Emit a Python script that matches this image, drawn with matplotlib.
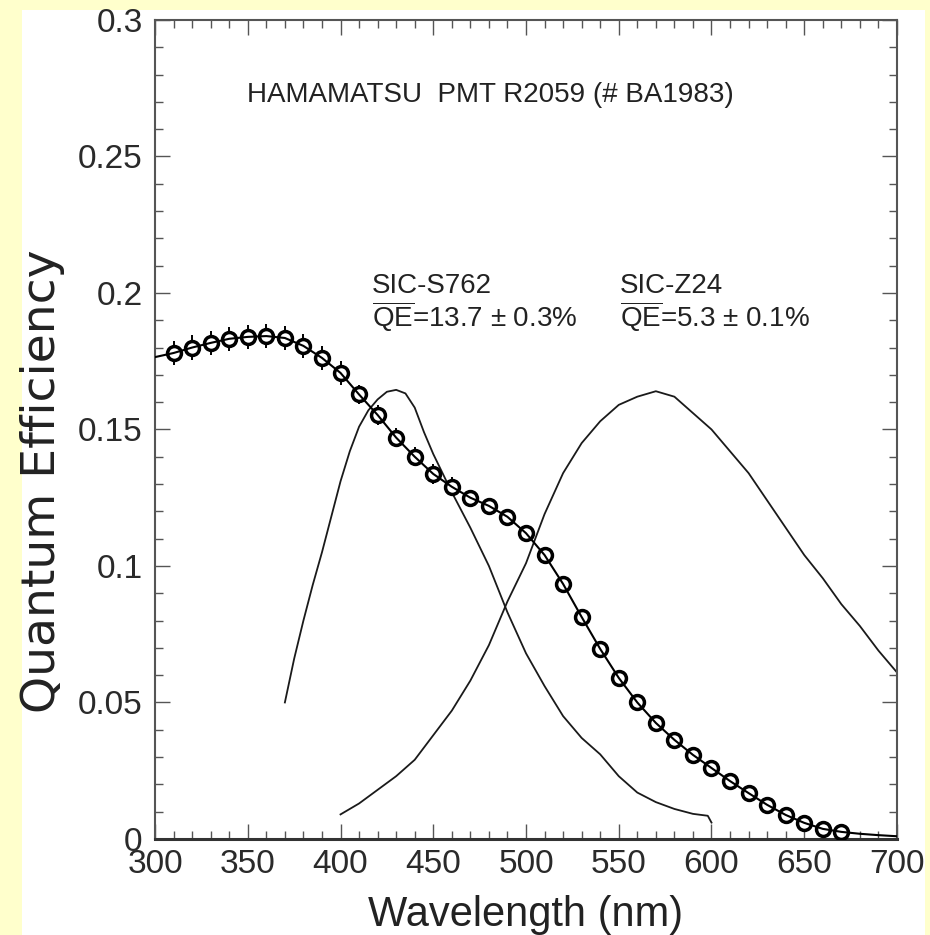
import numpy as np
import matplotlib.pyplot as plt
from matplotlib.patches import Rectangle
from matplotlib.ticker import MultipleLocator

plt.rcParams['font.family'] = ['Liberation Sans', 'DejaVu Sans']
plt.rcParams['mathtext.fontset'] = 'custom'
plt.rcParams['mathtext.rm'] = 'Liberation Sans'

# measured PMT quantum efficiency points (nm, QE)
qe_x = list(range(310, 680, 10))
qe_y = [0.178, 0.180, 0.1817, 0.1832, 0.1839, 0.1842, 0.1835, 0.1806, 0.1762, 0.1707,
        0.1628, 0.1553, 0.147, 0.140, 0.1337, 0.129, 0.125, 0.122, 0.118, 0.112,
        0.104, 0.0934, 0.0813, 0.0696, 0.059, 0.050, 0.0425, 0.0363, 0.0308, 0.026,
        0.0212, 0.0168, 0.0125, 0.0088, 0.0059, 0.0037, 0.0026]
qe_err = [0.0045] * 10 + [0.0035] * 6 + [0.002] * 21

# smooth curve through the points
fit_x = [300] + qe_x + [680, 690, 700]
fit_y = [0.1765] + qe_y + [0.0019, 0.0014, 0.0010]

# scintillator emission spectra
s762_x = [370, 375, 380, 385, 390, 395, 400, 405, 410, 415, 420, 425, 430, 435, 440,
          445, 450, 455, 460, 470, 480, 490, 500, 510, 520, 530, 540, 550, 560, 570,
          580, 590, 598, 600]
s762_y = [0.050, 0.066, 0.080, 0.093, 0.105, 0.118, 0.131, 0.142, 0.151, 0.157, 0.161,
          0.1638, 0.1645, 0.1632, 0.158, 0.149, 0.141, 0.134, 0.127, 0.114, 0.100,
          0.083, 0.068, 0.056, 0.045, 0.037, 0.031, 0.023, 0.017, 0.0135, 0.011,
          0.0092, 0.0085, 0.006]

z24_x = list(range(400, 710, 10))
z24_y = [0.009, 0.013, 0.018, 0.023, 0.029, 0.038, 0.047, 0.058, 0.071, 0.087,
         0.101, 0.119, 0.134, 0.145, 0.153, 0.159, 0.162, 0.164, 0.162, 0.156,
         0.150, 0.142, 0.134, 0.124, 0.114, 0.104, 0.0955, 0.086, 0.078, 0.069, 0.061]

x_ticks = [300, 350, 400, 450, 500, 550, 600, 650, 700]
y_ticks = [0, 0.05, 0.1, 0.15, 0.2, 0.25, 0.3]
y_ticklabels = ['0', '0.05', '0.1', '0.15', '0.2', '0.25', '0.3']

fig = plt.figure(figsize=(9.3, 9.35), dpi=100, facecolor='#ffffcc')
fig.patches.append(Rectangle((0.0237, 0), 0.971, 0.989, transform=fig.transFigure,
                             facecolor='white', edgecolor='none', zorder=-10))
ax = fig.add_axes([0.1667, 0.1027, 0.7978, 0.876])
ax.set_zorder(5)

ax.plot(s762_x, s762_y, color='#1a1a1a', lw=1.3, zorder=2)
ax.plot(z24_x, z24_y, color='#1a1a1a', lw=1.3, zorder=2)
# error bars behind white-filled circles, fit line visible inside the rings
ax.errorbar(qe_x, qe_y, yerr=qe_err, fmt='none', ecolor='black', elinewidth=1.4,
            capsize=0, zorder=3)
ax.plot(qe_x, qe_y, 'o', ms=10, mfc='white', mec='none', zorder=4)
ax.plot(fit_x, fit_y, color='black', lw=1.5, zorder=5)
ax.plot(qe_x, qe_y, 'o', ms=10, mfc='none', mec='black', mew=2.5, zorder=6)

ax.set_xlim(300, 700)
ax.set_ylim(0, 0.3)
ax.set_xticks(x_ticks)
ax.set_xticklabels([str(t) for t in x_ticks])
ax.set_yticks(y_ticks)
ax.set_yticklabels(y_ticklabels)
ax.xaxis.set_minor_locator(MultipleLocator(10))
ax.yaxis.set_minor_locator(MultipleLocator(0.01))
ax.tick_params(which='both', direction='in', top=True, right=True, color='#555555', width=1,
               labelcolor='#2a2a2a')
ax.tick_params(which='major', length=11, labelsize=24)
ax.tick_params(which='minor', length=6)
ax.tick_params(axis='x', pad=7)
ax.tick_params(axis='y', pad=9)
for s in ax.spines.values():
    s.set_color('#555555')
    s.set_linewidth(1.5)
ax.spines['bottom'].set_linewidth(2.2)
ax.spines['bottom'].set_color('#333333')

ax.set_xlabel('Wavelength (nm)', fontsize=30, color='#222222')
ax.xaxis.set_label_coords(0.5, -0.068)
ax.set_ylabel('Quantum Efficiency', fontsize=34, color='#222222', family='DejaVu Sans',
              va='center')
ax.yaxis.set_label_coords(-0.152, 0.437)

ax.text(349.6, 0.270, 'HAMAMATSU  PMT R2059 (# BA1983)', fontsize=20, color='#222222')
ax.text(417, 0.200, 'SIC-S762', fontsize=20, color='#222222')
ax.text(417, 0.1875, r'$\overline{\mathrm{QE}}$=13.7 ± 0.3%', fontsize=20, color='#222222')
ax.text(550.7, 0.200, 'SIC-Z24', fontsize=20, color='#222222')
ax.text(550.7, 0.1875, r'$\overline{\mathrm{QE}}$=5.3 ± 0.1%', fontsize=20, color='#222222')

fig.savefig('out.png', dpi=100, facecolor=fig.get_facecolor())
